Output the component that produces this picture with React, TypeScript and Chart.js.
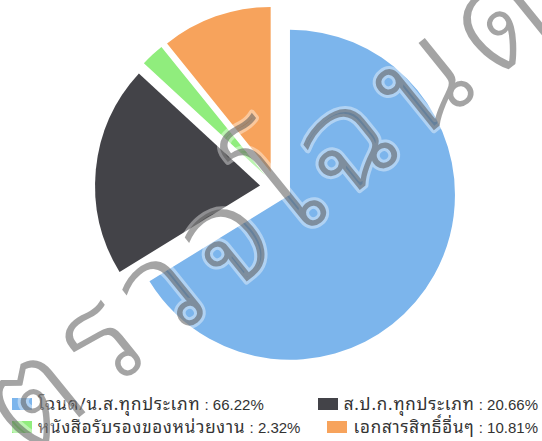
import React, { useEffect, useRef } from "react";
import { Chart, registerables } from "chart.js";

Chart.register(...registerables);

const labels = ["โฉนด/น.ส.ทุกประเภท", "ส.ป.ก.ทุกประเภท", "หนังสือรับรองของหน่วยงาน", "เอกสารสิทธิ์อื่นๆ"];
const values = [66.22, 20.66, 2.32, 10.81];
const colors = ["#7cb5ec", "#434348", "#90ed7d", "#f7a35c"];
const watermarkText = "ตรวจโฉนด";
const SLICE_SHIFT = 16;

// Move every slice out along its bisector (like "sliced" pies) without changing its radius
const explodePlugin = {
  id: "explode",
  afterDatasetsUpdate(chart: any) {
    chart.getDatasetMeta(0).data.forEach((arc: any) => {
      const mid = (arc.startAngle + arc.endAngle) / 2;
      arc.x += Math.cos(mid) * SLICE_SHIFT;
      arc.y += Math.sin(mid) * SLICE_SHIFT;
    });
  },
};

const watermarkPlugin = {
  id: "watermark",
  afterDraw(chart: any) {
    const ctx = chart.ctx as CanvasRenderingContext2D;
    ctx.save();
    ctx.translate(270, 212);
    ctx.rotate((-39 * Math.PI) / 180);
    const size = 140;
    ctx.font = `300 ${size}px 'Noto Sans Thai Looped', 'Noto Sans Thai', sans-serif`;
    (ctx as any).letterSpacing = "0px";
    const w0 = ctx.measureText(watermarkText).width;
    const ls = Math.max(0, (700 - w0) / 8);
    (ctx as any).letterSpacing = `${ls}px`;
    ctx.textAlign = "center";
    ctx.textBaseline = "middle";
    ctx.lineJoin = "round";
    ctx.strokeStyle = "rgba(255,255,255,0.4)";
    ctx.lineWidth = 6;
    ctx.strokeText(watermarkText, ls / 2, 0);
    ctx.fillStyle = "rgba(80,80,80,0.52)";
    ctx.fillText(watermarkText, ls / 2, 0);
    ctx.restore();
  },
};

export default function App() {
  const ref = useRef<HTMLCanvasElement>(null);
  useEffect(() => {
    document.body.style.margin = "0";
    const chart = new Chart(ref.current!, {
      type: "pie",
      data: {
        labels,
        datasets: [
          {
            data: values,
            backgroundColor: colors,
            borderWidth: 0,
            hoverOffset: 0,
            radius: 165,
          } as any,
        ],
      },
      options: {
        animation: false,
        responsive: false,
        events: [],
        layout: { padding: { left: 10, right: 0, top: 0, bottom: 67 } },
        plugins: { legend: { display: false }, tooltip: { enabled: false } },
      } as any,
      plugins: [explodePlugin, watermarkPlugin],
    });
    return () => chart.destroy();
  }, []);

  const item = (i: number) => (
    <div style={{ display: "flex", alignItems: "center" }} key={i}>
      <span style={{ display: "inline-block", width: 20, height: 12, background: colors[i], marginRight: 6, flex: "none" }} />
      <span style={{ whiteSpace: "pre" }}>
        <span style={{ fontFamily: "'Noto Sans Thai Looped', 'Liberation Sans', sans-serif", fontSize: 17, letterSpacing: "0.8px" }}>{labels[i]}</span>
        <span style={{ fontFamily: "'Liberation Sans', sans-serif", fontSize: 15 }}> : {values[i].toFixed(2)}%</span>
      </span>
    </div>
  );

  return (
    <div style={{ position: "relative", width: 542, height: 441, background: "#fff", color: "#333" }}>
      <div style={{ position: "absolute", left: 12, right: 4, top: 392, lineHeight: "23px" }}>
        <div style={{ display: "flex", justifyContent: "space-between", height: 23 }}>
          {item(0)}
          {item(1)}
        </div>
        <div style={{ display: "flex", justifyContent: "space-between", height: 23 }}>
          {item(2)}
          {item(3)}
        </div>
      </div>
      <canvas ref={ref} width={542} height={441} style={{ position: "absolute", left: 0, top: 0 }} />
    </div>
  );
}
